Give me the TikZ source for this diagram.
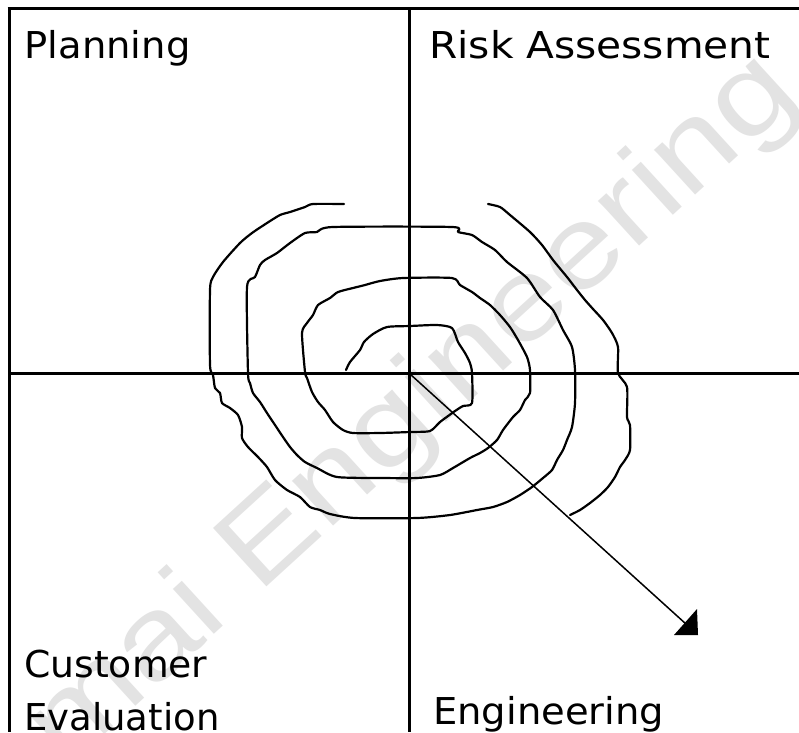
\documentclass[tikz,border=0pt]{standalone}
\usepackage{fontspec}
\usetikzlibrary{calc}
\setmainfont{DejaVu Sans}
\newfontfamily\wmfont{Liberation Sans}
\begin{document}
\begin{tikzpicture}[x=1pt,y=-1pt,
  frame/.style={line width=3pt},
  axisline/.style={line width=2.6pt},
  spiral/.style={line width=2.2pt, line join=round, line cap=round},
  lbl/.style={anchor=base west, inner sep=0pt, font=\fontsize{37}{44}\selectfont},
  wm/.style={anchor=base west, inner sep=0pt, text=black!11, rotate=42.4, font=\wmfont\fontsize{115}{130}\selectfont},
]
\useasboundingbox (0,0) rectangle (799,732);
\fill[white] (0,0) rectangle (799,732);
% watermark
\node[wm] (wmark) at (66,770) {\scalebox{1.2}[1]{mai Engineering}};
% frame and axes
\coordinate (topL) at (7.5,8.5);
\coordinate (topR) at (799,8.5);
\coordinate (leftT) at (9,7);
\coordinate (leftB) at (9,732);
\coordinate (midT) at (409.7,8);
\coordinate (midB) at (409.7,732);
\coordinate (horL) at (9,373.3);
\coordinate (horR) at (799,373.3);
\draw[frame] (topL) -- (topR);
\draw[frame] (leftT) -- (leftB);
\draw[axisline] (midT) -- (midB);
\draw[axisline] (horL) -- (horR);
% spiral
\draw[spiral] plot[smooth, tension=0.4] coordinates {
 (346,370) (350,362) (360,350) (364,342) (373,334) (387,327) (410,326) (437,325)
 (452,328) (458,342) (465,353) (470,363) (472,373) (472,403) (463,406) (455,411)
 (440,422) (430,431) (410,432) (380,433) (353,433) (343,430) (333,422) (325,410)
 (318,402) (312,392) (307,378) (305,372) (302,333) (307,323) (313,315) (318,305)
 (330,298) (338,292) (353,288) (365,285) (380,281) (403,278) (452,278) (460,285)
 (472,292) (480,298) (490,305) (500,315) (510,327) (518,340) (527,357) (530,370)
 (530,393) (525,400) (520,410) (513,417) (503,430) (497,440) (488,448) (480,453)
 (470,458) (453,468) (440,475) (417,478) (383,478) (337,477) (317,468) (305,462)
 (297,455) (290,447) (283,437) (275,425) (267,413) (260,402) (253,393) (250,383)
 (248,373) (247,287) (255,277) (260,265) (265,260) (277,253) (290,243) (305,233)
 (317,232) (333,227) (452,227) (458,232) (472,235) (482,242) (495,250) (507,262)
 (527,278) (540,297) (553,310) (563,330) (572,347) (575,370) (575,403) (572,427)
 (567,440) (563,450) (557,460) (552,470) (543,478) (532,487) (520,495) (507,502)
 (493,507) (477,510) (450,515) (417,518) (355,518) (330,514) (320,510) (310,507)
 (300,497) (287,490) (275,480) (267,467) (258,457) (248,447) (242,438) (242,427)
 (238,415) (230,408) (222,403) (220,393) (215,388) (213,375) (210,365) (210,290)
 (213,277) (223,262) (240,243) (252,233) (267,223) (280,215) (290,212) (305,207)
 (313,204) (344,204)};
\draw[spiral] plot[smooth, tension=0.4] coordinates {
 (488,204) (500,207) (510,215) (530,232) (542,245) (553,260) (567,277) (577,290)
 (585,300) (593,309) (603,320) (612,333) (618,347) (618,373) (627,387) (627,417)
 (630,425) (630,450) (625,460) (620,467) (615,477) (608,487) (600,495) (590,503)
 (580,510) (570,515)};
% arrow
\coordinate (O) at (410,374);
\coordinate (tip) at (698,635);
\draw[line width=1.5pt] (O) -- ($(tip)+(-12,-11)$);
\fill (tip) -- ++(-1,-26) -- ++(-23,26) -- cycle;
% labels
\node[lbl] (plan) at (24.5,58) {\scalebox{1.04}[1]{Planning}};
\node[lbl] (risk) at (429,58) {\scalebox{1.1}[1]{Risk Assessment}};
\node[lbl] (cust) at (24,677) {\scalebox{1.02}[1]{Customer}};
\node[lbl] (eval) at (24,730) {Evaluation};
\node[lbl] (eng) at (433,724) {\scalebox{1.04}[1]{Engineering}};
\end{tikzpicture}
\end{document}
